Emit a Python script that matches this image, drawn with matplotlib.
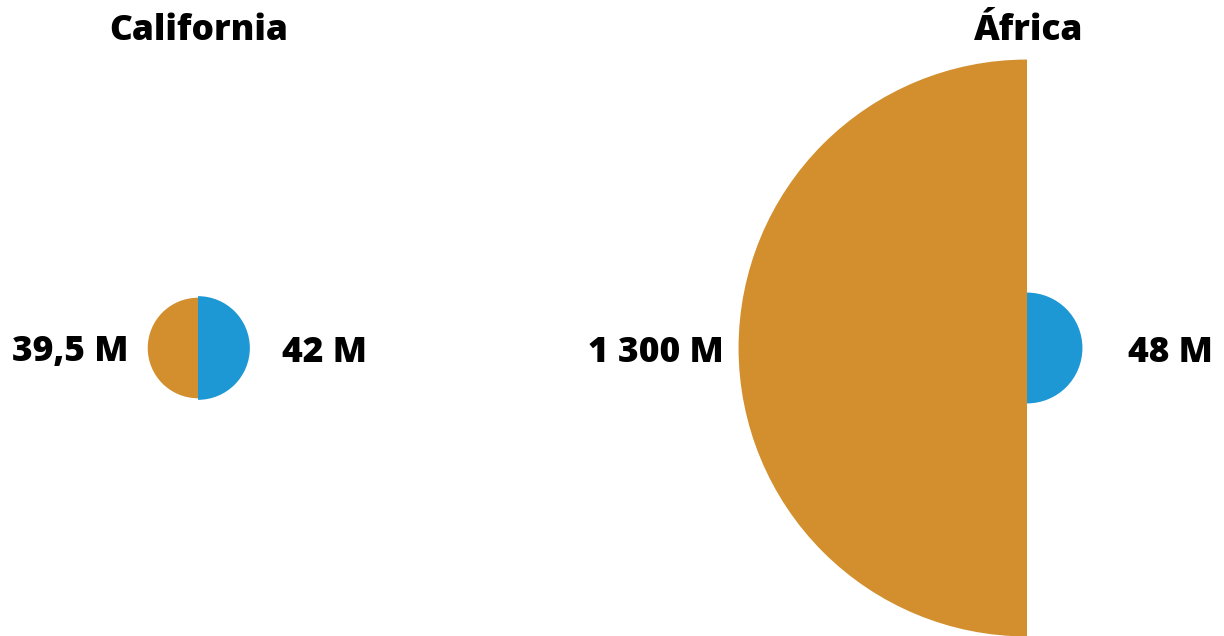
import numpy as np
import matplotlib
matplotlib.use("Agg")
import matplotlib.pyplot as plt
from matplotlib.patches import Wedge
from matplotlib import font_manager

plt.rcParams['font.family'] = ['Open Sans', 'DejaVu Sans']

# Population comparison data (millions)
regions = ["California", "África"]
left_values = [39.5, 1300]
right_values = [42, 48]
left_labels = ["39,5 M", "1 300 M"]
right_labels = ["42 M", "48 M"]

ORANGE = "#D38F2D"
BLUE = "#1E98D5"

W, H = 1224, 636
fig = plt.figure(figsize=(W / 100, H / 100), dpi=100)
ax = fig.add_axes([0, 0, 1, 1])
ax.set_xlim(0, W)
ax.set_ylim(H, 0)
ax.set_aspect("equal")
ax.axis("off")

# layout of each panel: circle centre x, label offsets
centers_x = [198, 1027]
center_y = 348
left_label_x = [128, 724]
right_label_x = [282, 1128]
title_x = [199, 1029]

# area-proportional radius scale
k = 8.0

txt = dict(fontsize=25.5, fontweight=800, color="black")

for i in range(len(regions)):
    cx = centers_x[i]
    rl = k * np.sqrt(left_values[i])
    rr = k * np.sqrt(right_values[i])
    ax.add_patch(Wedge((cx, center_y), rl, 90, 270, facecolor=ORANGE,
                       edgecolor="none"))
    ax.add_patch(Wedge((cx, center_y), rr, -90, 90, facecolor=BLUE,
                       edgecolor="none"))
    ax.text(left_label_x[i], center_y, left_labels[i], ha="right",
            va="center_baseline", **txt)
    ax.text(right_label_x[i], center_y, right_labels[i], ha="left",
            va="center_baseline", **txt)
    ax.text(title_x[i], 26, regions[i], ha="center", va="center_baseline",
            **txt)

fig.savefig("out.png", dpi=100)
